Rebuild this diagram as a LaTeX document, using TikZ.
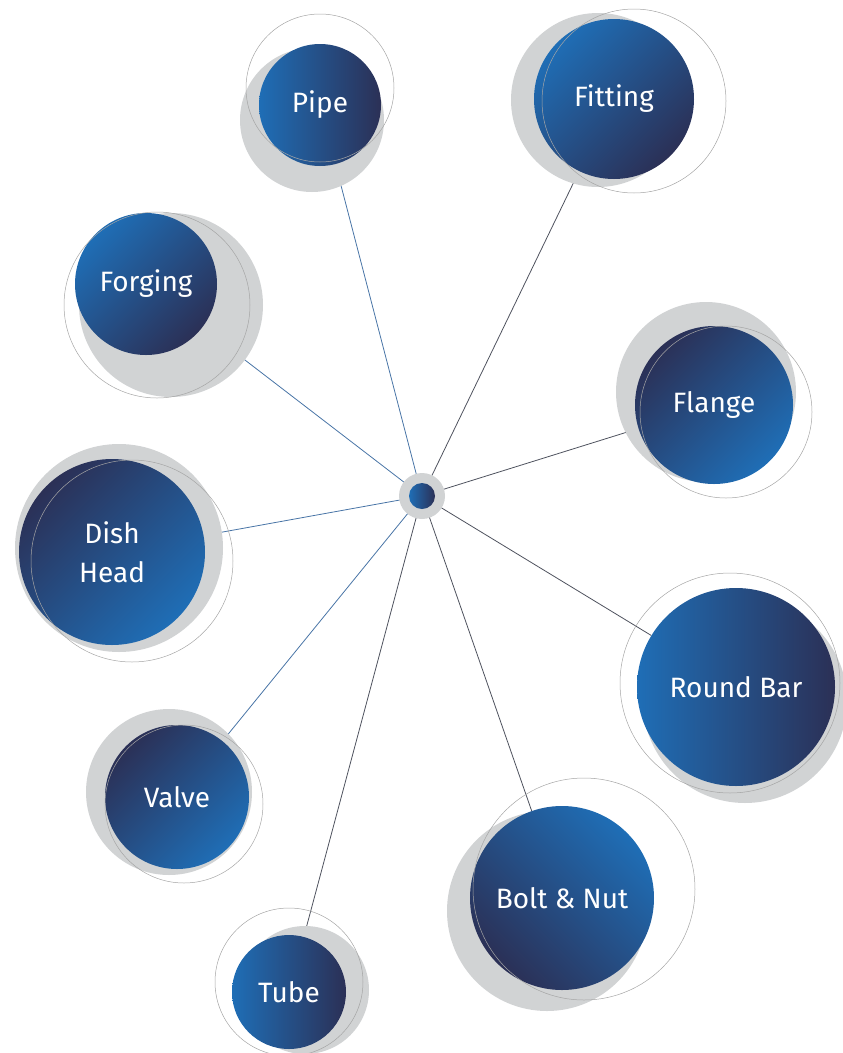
\documentclass[tikz,border=0pt]{standalone}
\usepackage{fontspec}
\setsansfont{Fira Sans}
\usetikzlibrary{backgrounds}
\definecolor{lblue}{RGB}{31,110,182}
\definecolor{navy}{RGB}{43,48,86}
\definecolor{haze}{RGB}{209,211,212}
\definecolor{ring}{RGB}{165,165,165}
\definecolor{bluelink}{RGB}{72,116,166}
\definecolor{greylink}{RGB}{78,82,94}

\begin{document}
\begin{tikzpicture}[x=1pt, y=-1pt,
  disc/.style={circle, inner sep=0pt, text=white, align=center,
    font=\sffamily\fontsize{28}{39}\selectfont},
  ltor/.style={left color=lblue, right color=navy},
  lightup/.style={top color=lblue, bottom color=navy, shading angle=45},
  darkup/.style={top color=navy, bottom color=lblue, shading angle=45},
  lightright/.style={top color=lblue, bottom color=navy, shading angle=-45},
  halo/.style={fill=haze},
  rim/.style={draw=ring, line width=0.5pt},
  link/.style={line width=0.8pt}]
  \useasboundingbox (0,0) rectangle (843,1053);

  \fill[halo] (312,120) circle (72);
  \fill[halo] (598,100) circle (87);
  \fill[halo] (171,305) circle (92);
  \fill[halo] (706,392) circle (90);
  \fill[halo] (119,548) circle (104);
  \fill[halo] (745,701) circle (102);
  \fill[halo] (169,792) circle (83);
  \fill[halo] (547,911) circle (100);
  \fill[halo] (305,990) circle (64);
  \fill[halo] (422,496) circle (23);

  \node[disc, ltor, minimum size=122pt] (pipe) at (320,105) {Pipe};
  \node[disc, lightup, minimum size=160pt] (fitting) at (614,99) {Fitting};
  \node[disc, lightup, minimum size=142pt] (forging) at (146,284) {Forging};
  \node[disc, darkup, minimum size=158pt] (flange) at (714,405) {Flange};
  \node[disc, darkup, minimum size=186pt] (dish) at (112,552) {Dish\\Head};
  \node[disc, ltor, minimum size=198pt] (bar) at (736,687) {Round Bar};
  \node[disc, darkup, minimum size=144pt] (valve) at (177,797) {Valve};
  \node[disc, lightright, minimum size=184pt] (bolt) at (562,898) {Bolt \& Nut};
  \node[disc, ltor, minimum size=114pt] (tube) at (289,992) {Tube};
  \node[disc, ltor, minimum size=26pt] (hub) at (422,496) {};

  \draw[rim] (320,88) circle (74);
  \draw[rim] (634,101) circle (92);
  \draw[rim] (157,305) circle (93);
  \draw[rim] (726,412) circle (86);
  \draw[rim] (132,561) circle (101);
  \draw[rim] (730,683) circle (110);
  \draw[rim] (184,804) circle (79);
  \draw[rim] (584,889) circle (111);
  \draw[rim] (289,982) circle (74);

  \begin{scope}[on background layer]
    \draw[link, bluelink] (hub) -- (pipe);
    \draw[link, greylink] (hub) -- (fitting);
    \draw[link, bluelink] (hub) -- (forging);
    \draw[link, greylink] (hub) -- (flange);
    \draw[link, bluelink] (hub) -- (dish);
    \draw[link, greylink] (hub) -- (bar);
    \draw[link, bluelink] (hub) -- (valve);
    \draw[link, greylink] (hub) -- (tube);
    \draw[link, greylink] (hub) -- (bolt);
  \end{scope}
\end{tikzpicture}
\end{document}
